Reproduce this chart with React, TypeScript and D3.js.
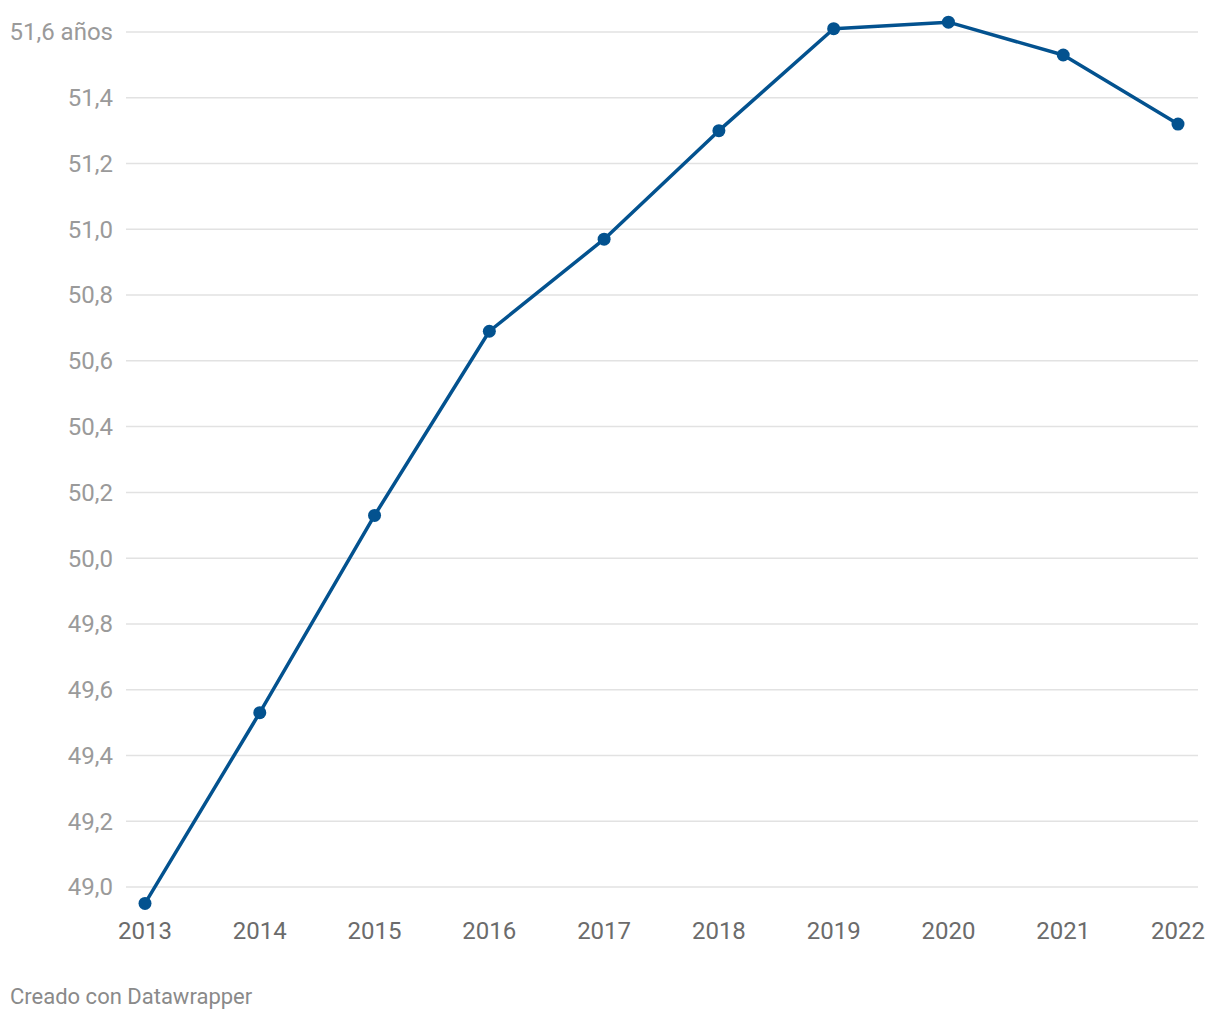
import React from "react";
import * as d3 from "d3";

const years = [2013, 2014, 2015, 2016, 2017, 2018, 2019, 2020, 2021, 2022];
const values = [48.95, 49.53, 50.13, 50.69, 50.97, 51.3, 51.61, 51.63, 51.53, 51.32];
const yTicks = [49.0, 49.2, 49.4, 49.6, 49.8, 50.0, 50.2, 50.4, 50.6, 50.8, 51.0, 51.2, 51.4, 51.6];
const footer = "Creado con Datawrapper";

const W = 1220;
const H = 1020;
const FONT = "Roboto, 'Noto Sans', sans-serif";

export default function App() {
  const x = d3.scalePoint<number>().domain(years).range([145, 1178]);
  const y = d3.scaleLinear().domain([49.0, 51.6]).range([887, 32]);
  const line = d3
    .line<number>()
    .x((_, i) => x(years[i]) as number)
    .y((d) => y(d));
  const fmt = (v: number) => v.toFixed(1).replace(".", ",");
  const lastTick = yTicks[yTicks.length - 1];

  return (
    <svg
      width={W}
      height={H}
      style={{ position: "absolute", left: 0, top: 0, background: "#fff" }}
      fontFamily={FONT}
    >
      {yTicks.map((t) => (
        <g key={t}>
          <line x1={126} x2={1198} y1={y(t)} y2={y(t)} stroke="#e2e2e2" strokeWidth={1.5} />
          <text x={113} y={y(t)} dy="0.35em" textAnchor="end" fontSize={24} fill="#9a9a9a">
            {t === lastTick ? `${fmt(t)} años` : fmt(t)}
          </text>
        </g>
      ))}
      {years.map((yr) => (
        <text key={yr} x={x(yr)} y={939} textAnchor="middle" fontSize={24} fill="#6b6b6b">
          {yr}
        </text>
      ))}
      <path d={line(values) || ""} fill="none" stroke="#03528f" strokeWidth={3.5} strokeLinejoin="round" />
      {values.map((v, i) => (
        <circle key={i} cx={x(years[i])} cy={y(v)} r={6.5} fill="#03528f" />
      ))}
      <text x={10} y={1004} fontSize={22} fill="#8a8a8a">
        {footer}
      </text>
    </svg>
  );
}
